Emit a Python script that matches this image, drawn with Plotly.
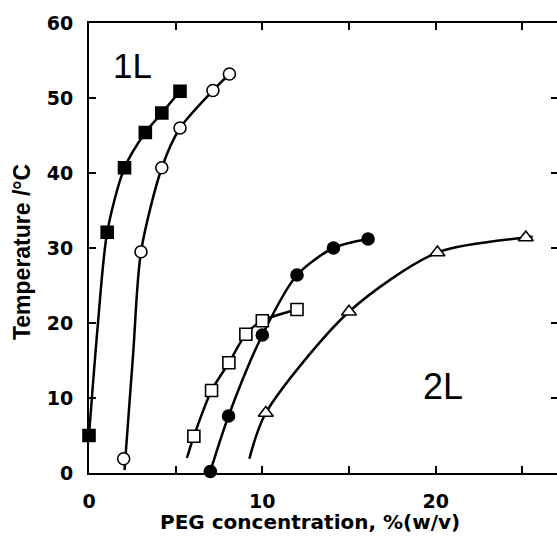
import plotly.graph_objects as go

# Marker data
sq_fill_x = [0.0, 1.05, 2.05, 3.25, 4.2, 5.25]
sq_fill_y = [5.0, 32.1, 40.7, 45.4, 48.0, 50.9]

circ_open_x = [2.0, 3.0, 4.2, 5.25, 7.15, 8.1]
circ_open_y = [1.9, 29.5, 40.7, 46.0, 51.0, 53.2]

sq_open_x = [6.05, 7.07, 8.07, 9.05, 10.0, 12.0]
sq_open_y = [4.9, 11.0, 14.7, 18.5, 20.3, 21.8]

circ_fill_x = [7.0, 8.05, 10.0, 12.0, 14.1, 16.1]
circ_fill_y = [0.2, 7.6, 18.4, 26.4, 30.0, 31.2]

tri_open_x = [10.2, 15.0, 20.1, 25.2]
tri_open_y = [8.0, 21.5, 29.4, 31.4]

# Fitted-curve guide points
curve_sq_fill_x = [0.0, 0.5, 1.05, 2.05, 3.25, 4.2, 5.25]
curve_sq_fill_y = [5.0, 19.5, 32.1, 40.7, 45.4, 48.0, 50.9]

curve_circ_open_x = [2.05, 2.1, 2.55, 3.0, 4.2, 5.25, 7.15, 8.1]
curve_circ_open_y = [0.4, 2.0, 16.0, 29.5, 40.7, 46.0, 51.0, 53.2]

curve_sq_open_x = [5.65, 6.05, 7.07, 8.07, 9.05, 10.0, 12.0]
curve_sq_open_y = [2.0, 4.9, 11.0, 14.7, 18.5, 20.3, 21.8]

curve_circ_fill_x = [7.0, 8.05, 10.0, 12.0, 14.1, 16.1]
curve_circ_fill_y = [0.2, 7.6, 18.4, 26.4, 30.0, 31.2]

curve_tri_open_x = [9.25, 10.2, 15.0, 20.1, 25.2, 25.6]
curve_tri_open_y = [1.9, 8.0, 21.5, 29.4, 31.4, 31.5]

x_ticks = [0, 10, 20]
x_minor_ticks = [5, 15, 25]
y_ticks = [0, 10, 20, 30, 40, 50, 60]

fig = go.Figure()

line_style = dict(color="black", width=2.5, shape="spline", smoothing=0.8)
curves = [
    (curve_sq_fill_x, curve_sq_fill_y),
    (curve_circ_open_x, curve_circ_open_y),
    (curve_sq_open_x, curve_sq_open_y),
    (curve_circ_fill_x, curve_circ_fill_y),
    (curve_tri_open_x, curve_tri_open_y),
]
for cx, cy in curves:
    fig.add_trace(go.Scatter(x=cx, y=cy, mode="lines", line=line_style,
                             showlegend=False, hoverinfo="skip"))

outline = dict(color="black", width=1.6)
fig.add_trace(go.Scatter(x=sq_fill_x, y=sq_fill_y, mode="markers",
                         marker=dict(symbol="square", size=12, color="black", line=outline),
                         showlegend=False, cliponaxis=False))
fig.add_trace(go.Scatter(x=circ_open_x, y=circ_open_y, mode="markers",
                         marker=dict(symbol="circle", size=12, color="white", line=outline),
                         showlegend=False, cliponaxis=False))
fig.add_trace(go.Scatter(x=sq_open_x, y=sq_open_y, mode="markers",
                         marker=dict(symbol="square", size=12, color="white", line=outline),
                         showlegend=False, cliponaxis=False))
fig.add_trace(go.Scatter(x=circ_fill_x, y=circ_fill_y, mode="markers",
                         marker=dict(symbol="circle", size=12, color="black", line=outline),
                         showlegend=False, cliponaxis=False))
fig.add_trace(go.Scatter(x=tri_open_x, y=tri_open_y, mode="markers",
                         marker=dict(symbol="triangle-up", size=13, color="white", line=outline),
                         showlegend=False, cliponaxis=False))
# invisible trace to register the right-hand tick axis
fig.add_trace(go.Scatter(x=[], y=[], yaxis="y2", showlegend=False, hoverinfo="skip"))

fig.add_annotation(x=2.5, y=54.4, text="1L", showarrow=False,
                   font=dict(family="Liberation Sans, Arial", size=35, color="black"))
fig.add_annotation(x=20.45, y=11.6, text="2L", showarrow=False,
                   font=dict(family="Liberation Sans, Arial", size=36, color="black"))

# axis titles
fig.add_annotation(xref="paper", yref="paper", x=0.472, y=0, yshift=-49,
                   xanchor="center", yanchor="middle", showarrow=False,
                   text="PEG concentration, %(w/v)",
                   font=dict(family="DejaVu Sans", size=20, color="black", weight="bold"))
fig.add_annotation(xref="paper", yref="paper", x=0, xshift=-67, y=0.491,
                   xanchor="center", yanchor="middle", showarrow=False, textangle=-90,
                   text="Temperature /°C",
                   font=dict(family="Liberation Sans, Arial", size=23, color="black", weight="bold"))

tickfont = dict(family="DejaVu Sans", size=19, color="black", weight="bold")

fig.update_xaxes(range=[0, 27.0], tickvals=x_ticks, ticktext=[str(v) for v in x_ticks],
                 ticks="inside", ticklen=7, tickwidth=1.5, tickcolor="black",
                 minor=dict(tickvals=x_minor_ticks, ticks="inside", ticklen=7, tickwidth=1.5, tickcolor="black"),
                 showline=True, linecolor="black", linewidth=2, mirror="ticks",
                 showgrid=False, zeroline=False, tickfont=tickfont, ticklabelstandoff=10,
                 automargin=False)
fig.update_yaxes(range=[0, 60], tickvals=y_ticks, ticktext=[str(v) for v in y_ticks],
                 ticks="inside", ticklen=7, tickwidth=1.5, tickcolor="black",
                 showline=True, linecolor="black", linewidth=2, mirror=False,
                 showgrid=False, zeroline=False, tickfont=tickfont, ticklabelstandoff=10,
                 automargin=False)

fig.update_layout(
    yaxis2=dict(overlaying="y", side="right", anchor="x", range=[0, 60],
                tickvals=y_ticks, showticklabels=False, ticks="inside", ticklen=6,
                tickwidth=1.5, tickcolor="black", showline=False, showgrid=False,
                zeroline=False, automargin=False),
    width=557, height=542, plot_bgcolor="white", paper_bgcolor="white",
    margin=dict(l=89, r=0, t=23, b=69), showlegend=False)

fig.write_html(
    "out.html",
    config={"displayModeBar": False},
    post_script="document.body.style.margin='0';document.body.style.overflow='hidden';"
                "document.documentElement.style.overflow='hidden';")
